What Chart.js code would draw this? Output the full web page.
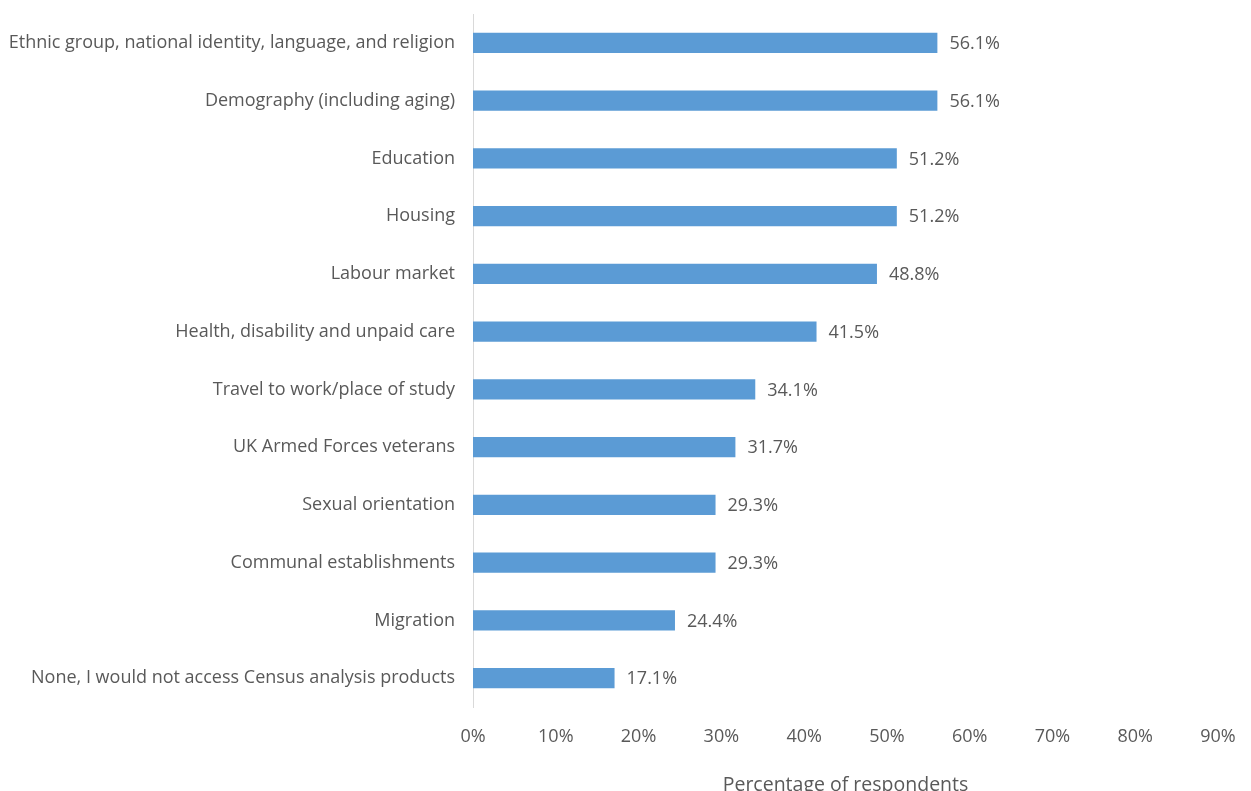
<!DOCTYPE html>
<html>
<head>
<meta charset="utf-8">
<script src="https://cdn.jsdelivr.net/npm/chart.js@4.4.1/dist/chart.umd.min.js"></script>
<style>
  html, body { margin: 0; padding: 0; background: #fff; overflow: hidden; }
  #wrap { width: 1251px; height: 800px; position: relative; }
</style>
</head>
<body>
<div id="wrap"><canvas id="myChart"></canvas></div>
<script>
// Census topics and share of respondents who would use each analysis product
const topics = [
    'Ethnic group, national identity, language, and religion',
    'Demography (including aging)',
    'Education',
    'Housing',
    'Labour market',
    'Health, disability and unpaid care',
    'Travel to work/place of study',
    'UK Armed Forces veterans',
    'Sexual orientation',
    'Communal establishments',
    'Migration',
    'None, I would not access Census analysis products'
];
const percentages = [56.1, 56.1, 51.2, 51.2, 48.8, 41.5, 34.1, 31.7, 29.3, 29.3, 24.4, 17.1];
const axisTitle = 'Percentage of respondents';

const textColor = '#595959';
const fontFamily = '"Open Sans", "Noto Sans", sans-serif';

// Writes the value next to the end of each bar
const valueLabels = {
    id: 'valueLabels',
    afterDatasetsDraw(chart) {
        const ctx = chart.ctx;
        const meta = chart.getDatasetMeta(0);
        ctx.save();
        ctx.fillStyle = textColor;
        ctx.font = '18px ' + fontFamily;
        ctx.textAlign = 'left';
        ctx.textBaseline = 'middle';
        meta.data.forEach((bar, i) => {
            ctx.fillText(percentages[i].toFixed(1) + '%', bar.x + 12, bar.y + 1);
        });
        ctx.restore();
    }
};

const ctx = document.getElementById('myChart').getContext('2d');
const myChartInstance = new Chart(ctx, {
    type: 'bar',
    data: {
        labels: topics,
        datasets: [{
            data: percentages,
            backgroundColor: '#5B9BD5',
            barPercentage: 0.35,
            categoryPercentage: 1.0
        }]
    },
    options: {
        indexAxis: 'y',
        responsive: true,
        maintainAspectRatio: false,
        animation: false,
        layout: { padding: { top: 14, right: 33, bottom: 0, left: 0 } },
        plugins: {
            legend: { display: false },
            tooltip: { enabled: false }
        },
        scales: {
            x: {
                min: 0,
                max: 90,
                grid: { display: false },
                border: { display: false },
                ticks: {
                    stepSize: 10,
                    padding: 11,
                    color: textColor,
                    font: { family: fontFamily, size: 18 },
                    callback: v => v + '%'
                },
                title: {
                    display: true,
                    text: axisTitle,
                    color: textColor,
                    font: { family: fontFamily, size: 19.5 },
                    padding: { top: 22, bottom: 3 }
                },
                afterFit(scale) { scale.height = 93; }
            },
            y: {
                grid: { display: false },
                border: { display: true, color: '#D9D9D9', width: 1 },
                ticks: {
                    padding: 10,
                    color: textColor,
                    font: { family: fontFamily, size: 18 }
                },
                afterFit(scale) {
                    scale.width = 473;
                    scale.paddingTop = 0;
                    scale.paddingBottom = 0;
                }
            }
        }
    },
    plugins: [valueLabels]
});
</script>
</body>
</html>
